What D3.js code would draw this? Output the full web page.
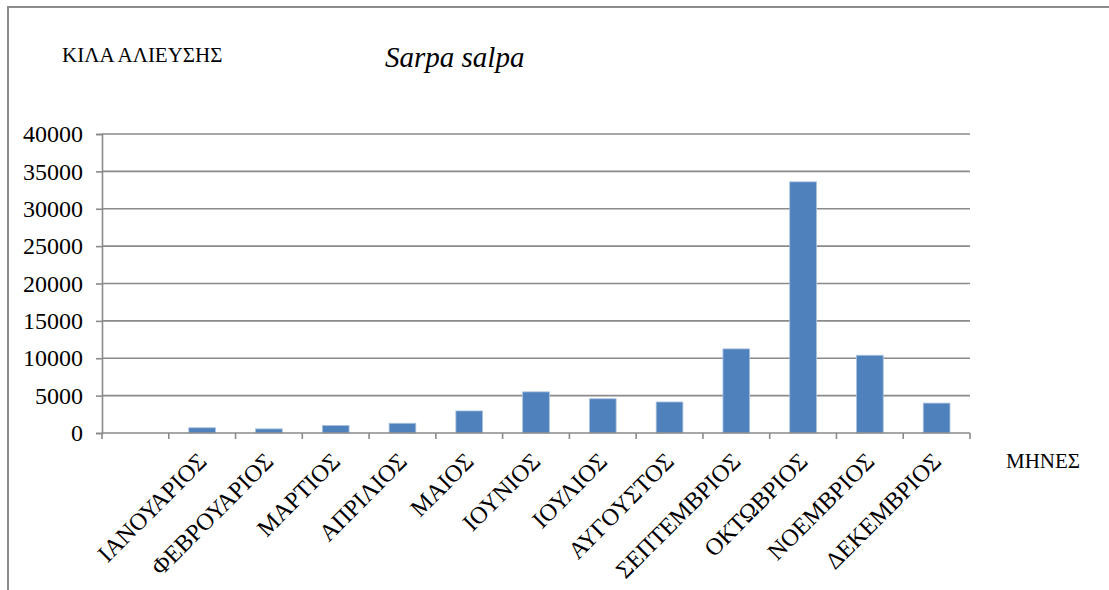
<!DOCTYPE html>
<html>
<head>
<meta charset="utf-8">
<script src="https://cdn.jsdelivr.net/npm/d3@7"></script>
<style>
  body{margin:0;background:#fff}
  svg text{font-family:"Liberation Serif","Times New Roman",Times,serif !important;fill:#000}
</style>
</head>
<body>
<script>
// data (first slot is empty in the original)
var months=["","ΙΑΝΟΥΑΡΙΟΣ","ΦΕΒΡΟΥΑΡΙΟΣ","ΜΑΡΤΙΟΣ","ΑΠΡΙΛΙΟΣ","ΜΑΙΟΣ","ΙΟΥΝΙΟΣ","ΙΟΥΛΙΟΣ","ΑΥΓΟΥΣΤΟΣ","ΣΕΠΤΕΜΒΡΙΟΣ","ΟΚΤΩΒΡΙΟΣ","ΝΟΕΜΒΡΙΟΣ","ΔΕΚΕΜΒΡΙΟΣ"]
var kilos=[null,700,550,1000,1300,2950,5500,4580,4150,11250,33600,10400,4000]
var yTicks=[0,5000,10000,15000,20000,25000,30000,35000,40000]

var screen={width:1109,height:590}
var margins={top:134,right:139,bottom:157,left:102}
var height=screen.height-margins.top-margins.bottom
var width=screen.width-margins.left-margins.right

var svg=d3.select("body").append("svg")
          .attr("width",screen.width)
          .attr("height",screen.height)

// outer frame (runs off the right and bottom edges)
svg.append("rect")
   .attr("x",8).attr("y",7)
   .attr("width",1200).attr("height",700)
   .attr("fill","none")
   .attr("stroke","#8c8c8c")
   .attr("stroke-width",2)

var xScale=d3.scaleBand()
   .domain(months)
   .range([0,width])
var yScale=d3.scaleLinear()
   .domain([0,40000])
   .range([height,0])

var plot=svg.append("g")
   .attr("transform","translate("+margins.left+","+margins.top+")")

//gridlines
plot.append("g")
   .selectAll("line")
   .data(yTicks.slice(1))
   .enter()
   .append("line")
   .attr("x1",0).attr("x2",width)
   .attr("y1",function(d){return yScale(d)})
   .attr("y2",function(d){return yScale(d)})
   .attr("stroke","#8a8a8a")
   .attr("stroke-width",1.6)

//bars
var bw=xScale.bandwidth()
plot.selectAll("rect.bar")
   .data(months.map(function(m,i){return {m:m,v:kilos[i]}}).filter(function(d){return d.v!=null}))
   .enter()
   .append("rect")
   .attr("class","bar")
   .attr("x",function(d){return xScale(d.m)+bw*0.3})
   .attr("width",bw*0.4)
   .attr("y",function(d){return yScale(d.v)})
   .attr("height",function(d){return height-yScale(d.v)})
   .attr("fill","#4f81bd")
   .attr("stroke","#a9c1df")
   .attr("stroke-width",0.8)

//y axis
var yAxis=d3.axisLeft(yScale).tickValues(yTicks).tickSize(6).tickPadding(13).tickFormat(d3.format("d"))
var gy=plot.append("g").call(yAxis).attr("font-family",null)
gy.select(".domain").attr("stroke","#8a8a8a").attr("stroke-width",1.6)
gy.selectAll(".tick line").attr("stroke","#8a8a8a").attr("stroke-width",1.6)
gy.selectAll("text").style("font-size","24px")

//x axis: ticks at slot boundaries
var xAxisG=plot.append("g").attr("transform","translate(0,"+height+")")
xAxisG.append("line")
   .attr("x1",0).attr("x2",width)
   .attr("stroke","#8a8a8a").attr("stroke-width",1.6)
xAxisG.selectAll("line.tk")
   .data(months.concat(["end"]))
   .enter()
   .append("line")
   .attr("class","tk")
   .attr("x1",function(d,i){return i*xScale.step()})
   .attr("x2",function(d,i){return i*xScale.step()})
   .attr("y1",0).attr("y2",6)
   .attr("stroke","#8a8a8a").attr("stroke-width",1.6)
xAxisG.selectAll("text")
   .data(months)
   .enter()
   .append("text")
   .attr("transform",function(d){return "translate("+(xScale(d)+bw/2)+",24) rotate(-45)"})
   .attr("dy","0.35em")
   .attr("text-anchor","end")
   .style("font-size","24px")
   .text(function(d){return d})

//titles
svg.append("text")
   .attr("x",62).attr("y",62)
   .style("font-size","21px")
   .text("ΚΙΛΑ ΑΛΙΕΥΣΗΣ")
svg.append("text")
   .attr("x",385).attr("y",67)
   .style("font-size","29px")
   .style("font-style","italic")
   .text("Sarpa salpa")
svg.append("text")
   .attr("x",1006).attr("y",468)
   .style("font-size","21px")
   .text("ΜΗΝΕΣ")
</script>
</body>
</html>
